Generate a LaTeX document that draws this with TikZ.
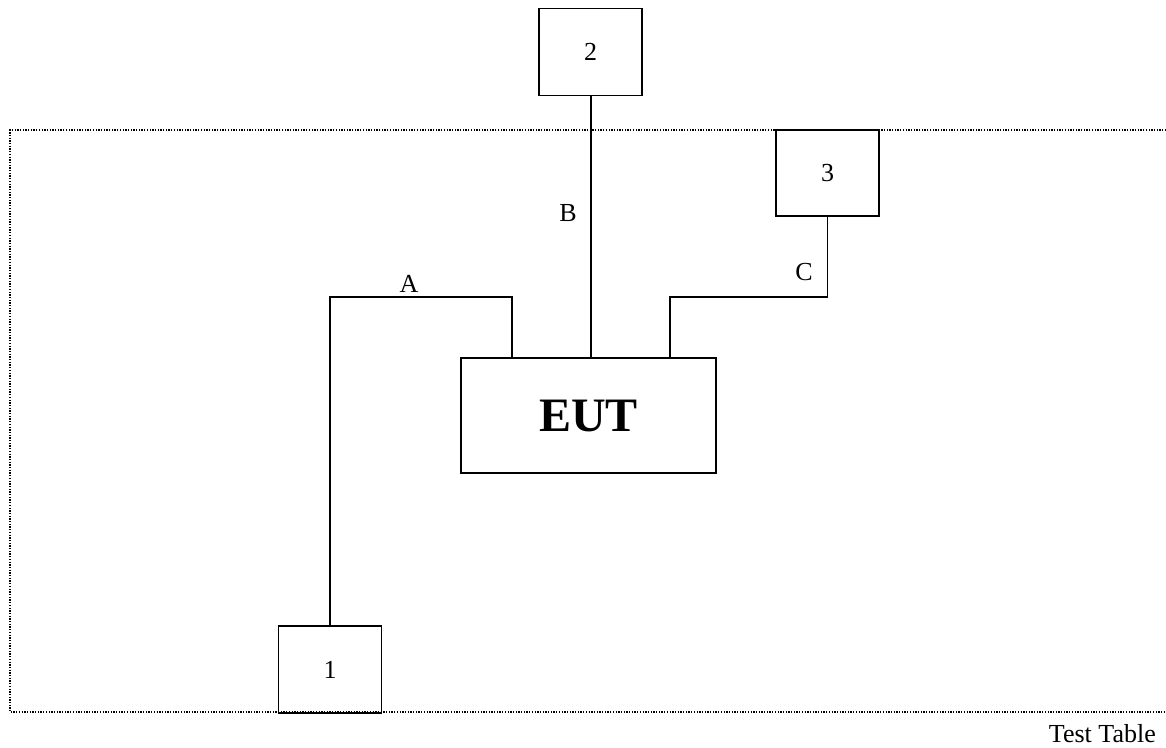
\documentclass[tikz,border=0pt]{standalone}
\usepackage{fontspec}
\setmainfont{Liberation Serif}
\begin{document}
\begin{tikzpicture}[x=1pt,y=-1pt,
  box/.style={draw,line width=1.3pt,minimum width=103pt,minimum height=87pt,inner sep=0pt,font=\fontsize{26}{30}\selectfont},
  wire/.style={line width=1.3pt},
  lbl/.style={font=\fontsize{26}{30}\selectfont,inner sep=0pt},
  frame/.style={line width=1.3pt,dash pattern=on 1.3pt off 1.4pt}]
\useasboundingbox (0,0) rectangle (1166,747);
\draw[frame] (1166,130) -- (10,130) -- (10,712) -- (1166,712);
\node[box] (n1) at (330,669.5) {1};
\node[box] (n2) at (590.5,52) {2};
\node[box,minimum height=86pt] (n3) at (827.5,173) {3};
\node[draw,line width=1.3pt,minimum width=255pt,minimum height=115pt,inner sep=0pt,font=\fontsize{48}{54}\selectfont\bfseries] (eut) at (588.5,415.5) {EUT};
\coordinate (ea) at (512,358);
\coordinate (eb) at (591,358);
\coordinate (ec) at (670,358);
\coordinate (ka) at (512,297);
\coordinate (kc) at (670,297);
\draw[wire] (n1.north) |- (ka) -- (ea);
\draw[wire] (n2.south -| eb) -- (eb);
\draw[wire] (n3.south) |- (kc) -- (ec);
\node[lbl] (la) at (409,284) {A};
\node[lbl] (lb) at (568,213) {B};
\node[lbl] (lc) at (804,272) {C};
\node[lbl,anchor=east] (tt) at (1156,734) {Test Table};
\end{tikzpicture}
\end{document}
